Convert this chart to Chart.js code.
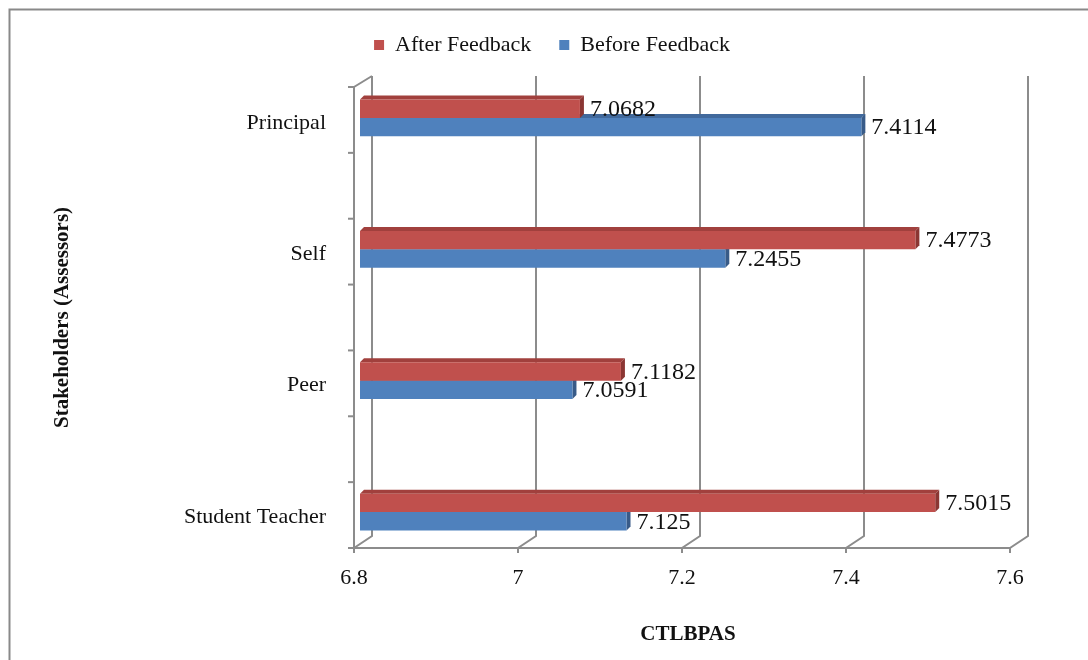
<!DOCTYPE html>
<html>
<head>
<meta charset="utf-8">
<script src="https://cdn.jsdelivr.net/npm/chart.js@4"></script>
<style>
  body { margin: 0; background: #fff; }
</style>
</head>
<body>
<canvas id="chart" width="1088" height="660"></canvas>
<script>
const stakeholders = ["Principal", "Self", "Peer", "Student Teacher"];
const afterFeedback = [7.0682, 7.4773, 7.1182, 7.5015];
const beforeFeedback = [7.4114, 7.2455, 7.0591, 7.125];
const scoreTicks = [6.8, 7, 7.2, 7.4, 7.6];

const serif = "'Liberation Serif', 'Times New Roman', serif";
const gray = "#8c8c8c";
// fake 3d: back wall offset and front edge offset (px)
const wallX = 12, wallY = 12, frontX = -6, depth = 4;
const faces = [
  { top: "#a1403d", side: "#8b3633" },
  { top: "#41699c", side: "#385b88" }
];

const fake3d = {
  id: "fake3d",
  afterInit(chart) {
    // push the plot down below the legend
    const lg = chart.legend;
    const fit = lg.fit;
    lg.fit = function () {
      fit.call(this);
      this.height += 21;
    };
  },
  beforeDraw(chart) {
    const ctx = chart.ctx;
    ctx.save();
    ctx.strokeStyle = "#898989";
    ctx.lineWidth = 2;
    ctx.strokeRect(9.5, 9.5, 1200, 800);
    ctx.restore();
  },
  beforeDatasetsDraw(chart) {
    const { ctx, chartArea: a, scales: { x } } = chart;
    ctx.save();
    ctx.strokeStyle = gray;
    ctx.lineWidth = 2;
    const left = x.getPixelForValue(scoreTicks[0]) + frontX;
    const right = x.getPixelForValue(scoreTicks[scoreTicks.length - 1]) + frontX;
    scoreTicks.forEach(v => {
      const px = x.getPixelForValue(v);
      ctx.beginPath();
      ctx.moveTo(px + frontX, a.bottom + 5);
      ctx.lineTo(px + frontX, a.bottom);
      ctx.lineTo(px + wallX, a.bottom - wallY);
      ctx.lineTo(px + wallX, a.top - 11);
      ctx.stroke();
    });
    ctx.beginPath();
    ctx.moveTo(right, a.bottom);
    ctx.lineTo(left, a.bottom);
    ctx.lineTo(left, a.top);
    ctx.lineTo(x.getPixelForValue(scoreTicks[0]) + wallX, a.top - 11);
    ctx.stroke();
    for (let k = 0; k <= 7; k++) {
      const yk = a.top + k * a.height / 7;
      ctx.beginPath();
      ctx.moveTo(left - 6, yk);
      ctx.lineTo(left, yk);
      ctx.stroke();
    }
    // top and side faces of the bars, back dataset first
    for (let i = chart.data.datasets.length - 1; i >= 0; i--) {
      chart.getDatasetMeta(i).data.forEach(el => {
        const { x: ex, y: ey, base, height } = el.getProps(["x", "y", "base", "height"], true);
        const b0 = Math.max(base, a.left);
        const t = ey - height / 2, b = ey + height / 2;
        ctx.fillStyle = faces[i].top;
        ctx.beginPath();
        ctx.moveTo(b0, t);
        ctx.lineTo(b0 + depth, t - depth);
        ctx.lineTo(ex + depth, t - depth);
        ctx.lineTo(ex, t);
        ctx.closePath();
        ctx.fill();
        ctx.fillStyle = faces[i].side;
        ctx.beginPath();
        ctx.moveTo(ex, t);
        ctx.lineTo(ex + depth, t - depth);
        ctx.lineTo(ex + depth, b - depth);
        ctx.lineTo(ex, b);
        ctx.closePath();
        ctx.fill();
      });
    }
    ctx.restore();
  },
  afterDatasetsDraw(chart) {
    const ctx = chart.ctx;
    ctx.save();
    ctx.font = "24px " + serif;
    ctx.fillStyle = "#111";
    ctx.textAlign = "left";
    ctx.textBaseline = "middle";
    chart.data.datasets.forEach((ds, i) => {
      chart.getDatasetMeta(i).data.forEach((el, j) => {
        ctx.fillText(String(ds.data[j].x), el.x + 10, el.y + 1);
      });
    });
    ctx.restore();
  }
};

const toPoints = vals => vals.map((v, i) => ({ x: v, y: i }));

new Chart(document.getElementById("chart"), {
  type: "bar",
  data: {
    datasets: [
      {
        label: "After Feedback",
        data: toPoints(afterFeedback),
        backgroundColor: "#c0504d",
        borderWidth: 0
      },
      {
        label: "Before Feedback",
        data: toPoints(beforeFeedback),
        backgroundColor: "#4f81bd",
        borderWidth: 0
      }
    ]
  },
  options: {
    indexAxis: "y",
    responsive: false,
    animation: false,
    categoryPercentage: 0.28,
    barPercentage: 1,
    layout: { padding: { left: 88, right: 72, top: 6, bottom: 0 } },
    plugins: {
      legend: {
        position: "top",
        labels: {
          boxWidth: 10,
          boxHeight: 10,
          padding: 28,
          color: "#111",
          font: { family: serif, size: 22 }
        }
      },
      tooltip: { enabled: false }
    },
    scales: {
      x: {
        type: "linear",
        min: 6.8,
        max: 7.6,
        afterBuildTicks: s => { s.ticks = scoreTicks.map(v => ({ value: v })); },
        afterFit: s => { s.height = 112; },
        grid: { display: false, drawTicks: false },
        border: { display: false },
        ticks: {
          padding: 17,
          labelOffset: -6,
          color: "#111",
          font: { family: serif, size: 22 },
          callback: v => String(v)
        },
        title: {
          display: true,
          text: "CTLBPAS",
          color: "#111",
          font: { family: serif, size: 21, weight: "bold" },
          padding: { top: 0, bottom: 13 }
        }
      },
      y: {
        type: "linear",
        reverse: true,
        offset: false,
        bounds: "data",
        min: -0.235,
        max: 3.273,
        afterBuildTicks: s => { s.ticks = stakeholders.map((_, i) => ({ value: i })); },
        afterFit: s => { s.width = 272; },
        grid: { display: false, drawTicks: false, offset: false },
        border: { display: false },
        ticks: {
          padding: 34,
          labelOffset: 5,
          color: "#111",
          font: { family: serif, size: 22 },
          callback: v => stakeholders[v]
        },
        title: {
          display: true,
          text: "Stakeholders (Assessors)",
          color: "#111",
          font: { family: serif, size: 21, weight: "bold" },
          padding: { top: -38, bottom: 0 }
        }
      }
    }
  },
  plugins: [fake3d]
});
</script>
</body>
</html>
